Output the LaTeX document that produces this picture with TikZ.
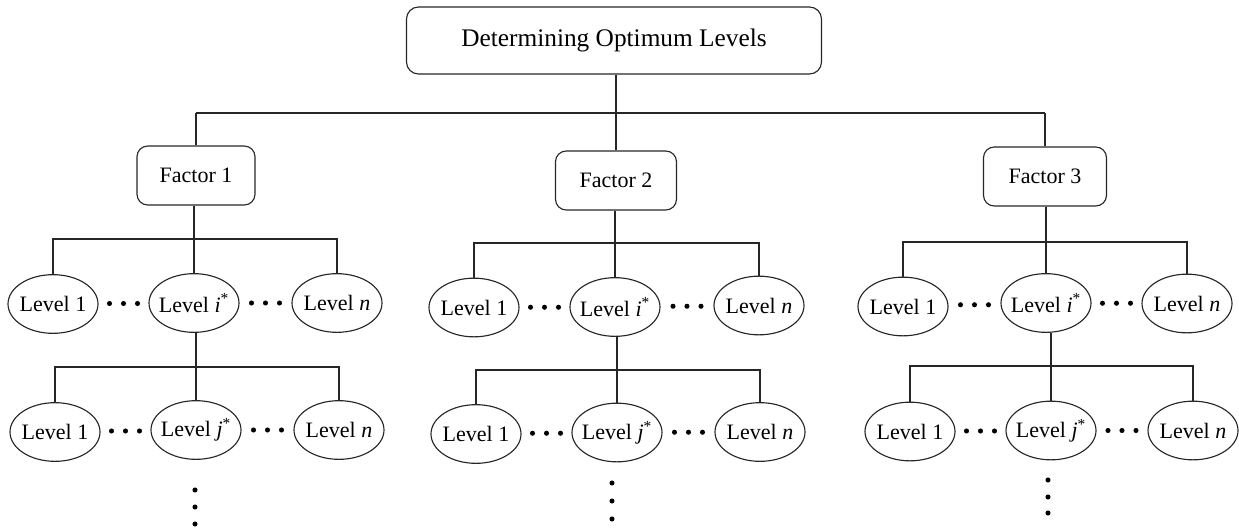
\documentclass[tikz,border=0pt]{standalone}
\usepackage{fontspec}
\setmainfont{Liberation Serif}
\usetikzlibrary{shapes.geometric,calc}
\newcommand\lvtext[1]{\makebox[0pt]{#1}}
\begin{document}
\begin{tikzpicture}[x=0.75pt,y=-0.75pt,
  conn/.style={draw=black!85,line width=0.85pt},
  topbox/.style={draw=black!85,line width=0.85pt,rounded corners=9pt,inner sep=0pt,
    minimum width=311.25pt,minimum height=50.25pt,font=\fontsize{19}{22}\selectfont},
  facbox/.style={draw=black!85,line width=0.85pt,rounded corners=8pt,inner sep=0pt,
    minimum height=44.25pt,font=\fontsize{16.5}{19}\selectfont},
  lvl/.style={draw=black!85,line width=0.85pt,ellipse,inner sep=0pt,
    minimum width=67.5pt,minimum height=44pt,font=\fontsize{16.5}{19}\selectfont},
  dotfill/.style={fill=black}]
\useasboundingbox (0,0) rectangle (1239,528);

\node[topbox] (top) at (614,40.5) {Determining Optimum Levels};

\node[facbox,minimum width=88.5pt] (f1) at (196,175.5) {Factor 1};
\node[facbox,minimum width=90.75pt] (f2) at (616,180.5) {Factor 2};
\node[facbox,minimum width=92.25pt] (f3) at (1045,176.5) {Factor 3};

% factor 1
\node[lvl] (a11) at (53,304) {\lvtext{Level 1}};
\node[lvl] (a12) at (194,303) {\lvtext{Level \textit{i}\textsuperscript{*}}};
\node[lvl] (a13) at (337,303) {\lvtext{Level \textit{n}}};
\node[lvl] (b11) at (55,432) {\lvtext{Level 1}};
\node[lvl] (b12) at (196,430) {\lvtext{Level \textit{j}\textsuperscript{*}}};
\node[lvl] (b13) at (339,430) {\lvtext{Level \textit{n}}};
% factor 2
\node[lvl] (a21) at (474,307.5) {\lvtext{Level 1}};
\node[lvl] (a22) at (615,307) {\lvtext{Level \textit{i}\textsuperscript{*}}};
\node[lvl] (a23) at (759,305.5) {\lvtext{Level \textit{n}}};
\node[lvl] (b21) at (476,434) {\lvtext{Level 1}};
\node[lvl] (b22) at (617,432.5) {\lvtext{Level \textit{j}\textsuperscript{*}}};
\node[lvl] (b23) at (760,432) {\lvtext{Level \textit{n}}};
% factor 3
\node[lvl] (a31) at (903,306.5) {\lvtext{Level 1}};
\node[lvl] (a32) at (1046,303) {\lvtext{Level \textit{i}\textsuperscript{*}}};
\node[lvl] (a33) at (1187,303.5) {\lvtext{Level \textit{n}}};
\node[lvl] (b31) at (910,431.5) {\lvtext{Level 1}};
\node[lvl] (b32) at (1051,430.5) {\lvtext{Level \textit{j}\textsuperscript{*}}};
\node[lvl] (b33) at (1193,430.5) {\lvtext{Level \textit{n}}};

% top connectors
\coordinate (b0) at (616,113);
\draw[conn] (top.south -| b0) -- (b0);
\draw[conn] (f1.north |- b0) -- (f3.north |- b0);
\foreach \f in {f1,f2,f3} \draw[conn] (\f.north) -- (\f.north |- b0);

% level connectors
\foreach \p/\a/\b/\c/\y in {f1/a11/a12/a13/239, a12/b11/b12/b13/367,
    f2/a21/a22/a23/243, a22/b21/b22/b23/370,
    f3/a31/a32/a33/242, a32/b31/b32/b33/366}{
  \draw[conn] (\p.south -| \b.north) -- (\b.north);
  \draw[conn] (\a.north) -- (\a.north |- 0,\y) -- (\c.north |- 0,\y) -- (\c.north);
}

% horizontal dots
\foreach \l/\r in {a11/a12,a12/a13,b11/b12,b12/b13,a21/a22,a22/a23,b21/b22,b22/b23,
    a31/a32,a32/a33,b31/b32,b32/b33}{
  \coordinate (m) at ($(\l.east)!0.5!(\r.west)$);
  \foreach \dx in {-14,0,14} \fill[dotfill] ($(m)+(\dx,0)$) circle[radius=1.9pt];
}

% vertical dots
\foreach \x/\ya/\yb/\yc in {195/490/507/524, 612/483/501/519, 1048/480/497/513}{
  \foreach \yy in {\ya,\yb,\yc} \fill[dotfill] (\x,\yy) circle[radius=1.9pt];
}
\end{tikzpicture}
\end{document}
